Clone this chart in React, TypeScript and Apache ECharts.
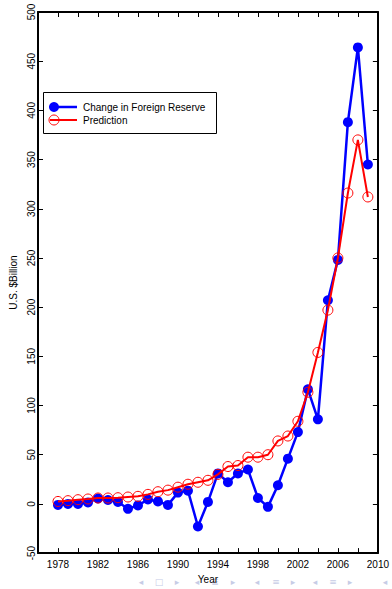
import React, { useEffect, useRef } from "react";
import * as echarts from "echarts";

// Annual change in foreign reserve vs. model prediction (US$ billion)
const years = [
  1978, 1979, 1980, 1981, 1982, 1983, 1984, 1985, 1986, 1987, 1988, 1989,
  1990, 1991, 1992, 1993, 1994, 1995, 1996, 1997, 1998, 1999,
  2000, 2001, 2002, 2003, 2004, 2005, 2006, 2007, 2008, 2009,
];
const reserveChange = [
  -1, 0, 0, 1.5, 5.5, 4, 2, -5, -1.5, 4.5, 2.5, -1,
  11.5, 13.5, -23, 2, 31, 22, 31, 35, 6, -3,
  19, 46, 73, 116.5, 86, 207, 248, 388, 464, 345,
];
const prediction = [
  2.5, 3.3, 4.3, 5, 6, 6, 6.3, 7, 7.7, 9.7, 12.4, 14,
  17, 20, 22, 24, 30, 38, 39, 47.5, 47.5, 50,
  64, 69, 84, 113.5, 154, 197, 250, 316, 370, 312,
];
const seriesNames = ["Change in Foreign Reserve", "Prediction"];
const xLabelStart = 1978;
const xLabelStep = 4;

const FONT = "Liberation Sans, Arial, sans-serif";

export default function App() {
  const ref = useRef<HTMLDivElement>(null);

  useEffect(() => {
    if (!ref.current) return;
    const chart = echarts.init(ref.current, null, { renderer: "svg" });

    const axisLine = { show: true, onZero: false, lineStyle: { color: "#000", width: 2 } };
    const axisTick = { show: true, inside: true, length: 5, lineStyle: { color: "#000", width: 1 } };
    const xCommon = { type: "value" as const, min: 1976, max: 2010, interval: 2, splitLine: { show: false } };
    const yCommon = { type: "value" as const, min: -50, max: 500, interval: 50, splitLine: { show: false } };

    // slide navigation glyphs along the bottom edge
    const navGlyphs = [
      { x: 141, t: "◂" }, { x: 159, t: "□" }, { x: 177, t: "▸" },
      { x: 197, t: "◂" }, { x: 215, t: "≣" }, { x: 233, t: "▸" },
      { x: 257, t: "◂" }, { x: 276, t: "≡" }, { x: 293, t: "▸" },
      { x: 315, t: "◂" }, { x: 333, t: "≡" }, { x: 350, t: "▸" },
      { x: 385, t: "◂" },
    ];

    chart.setOption({
      animation: false,
      backgroundColor: "#fff",
      grid: { left: 37, right: 12, top: 12, bottom: 30, containLabel: false },
      xAxis: [
        {
          ...xCommon,
          position: "bottom",
          name: "Year",
          nameLocation: "middle",
          nameGap: 20,
          nameTextStyle: { color: "#000", fontSize: 10, fontFamily: FONT },
          axisLine,
          axisTick,
          axisLabel: {
            color: "#000",
            fontSize: 10,
            fontFamily: FONT,
            margin: 6,
            showMinLabel: true,
            showMaxLabel: true,
            formatter: (v: number) =>
              v >= xLabelStart && (v - xLabelStart) % xLabelStep === 0 ? String(v) : "",
          },
        },
        {
          ...xCommon,
          position: "top",
          axisLine,
          axisTick,
          axisLabel: { show: false },
        },
      ],
      yAxis: [
        {
          ...yCommon,
          position: "left",
          name: "U.S. $Billion",
          nameLocation: "middle",
          nameGap: 20,
          nameRotate: 90,
          nameTextStyle: { color: "#000", fontSize: 10, fontFamily: FONT },
          axisLine,
          axisTick,
          axisLabel: {
            color: "#000",
            fontSize: 10,
            fontFamily: FONT,
            rotate: 90,
            margin: 2,
          },
        },
        {
          ...yCommon,
          position: "right",
          axisLine,
          axisTick,
          axisLabel: { show: false },
        },
      ],
      series: [
        {
          name: seriesNames[0],
          type: "line",
          xAxisIndex: 0,
          yAxisIndex: 0,
          data: years.map((y, i) => [y, reserveChange[i]]),
          symbol: "circle",
          symbolSize: 10,
          lineStyle: { color: "#0000ff", width: 2.5 },
          itemStyle: { color: "#0000ff" },
          z: 2,
        },
        {
          name: seriesNames[1],
          type: "line",
          xAxisIndex: 0,
          yAxisIndex: 0,
          data: years.map((y, i) => [y, prediction[i]]),
          symbol: "circle",
          symbolSize: 10,
          lineStyle: { color: "#ff0000", width: 2 },
          itemStyle: { color: "rgba(0,0,0,0)", borderColor: "#ff0000", borderWidth: 1 },
          z: 3,
        },
      ],
      graphic: [
        {
          type: "group",
          z: 10,
          children: [
            {
              type: "rect",
              shape: { x: 43.5, y: 92.5, width: 173, height: 41 },
              style: { fill: "#fff", stroke: "#000", lineWidth: 1 },
            },
            {
              type: "line",
              shape: { x1: 50, y1: 107, x2: 77, y2: 107 },
              style: { stroke: "#0000ff", lineWidth: 2.5 },
            },
            {
              type: "circle",
              shape: { cx: 54, cy: 107, r: 5 },
              style: { fill: "#0000ff" },
            },
            {
              type: "text",
              x: 83,
              y: 107,
              style: {
                text: seriesNames[0],
                fill: "#000",
                fontSize: 10,
                fontFamily: FONT,
                verticalAlign: "middle",
              },
            },
            {
              type: "line",
              shape: { x1: 50, y1: 120, x2: 77, y2: 120 },
              style: { stroke: "#ff0000", lineWidth: 2 },
            },
            {
              type: "circle",
              shape: { cx: 54, cy: 120, r: 5 },
              style: { fill: "none", stroke: "#ff0000", lineWidth: 1 },
            },
            {
              type: "text",
              x: 83,
              y: 120,
              style: {
                text: seriesNames[1],
                fill: "#000",
                fontSize: 10,
                fontFamily: FONT,
                verticalAlign: "middle",
              },
            },
          ],
        },
        {
          type: "group",
          z: 0,
          children: navGlyphs.map((g) => ({
            type: "text",
            x: g.x,
            y: 582,
            style: {
              text: g.t,
              fill: "#c7cce6",
              fontSize: 9,
              fontFamily: "DejaVu Sans",
              align: "center",
              verticalAlign: "middle",
            },
          })),
        },
      ],
    });

    return () => chart.dispose();
  }, []);

  return (
    <div
      ref={ref}
      style={{ position: "fixed", left: 0, top: 0, width: 392, height: 589 }}
    />
  );
}
